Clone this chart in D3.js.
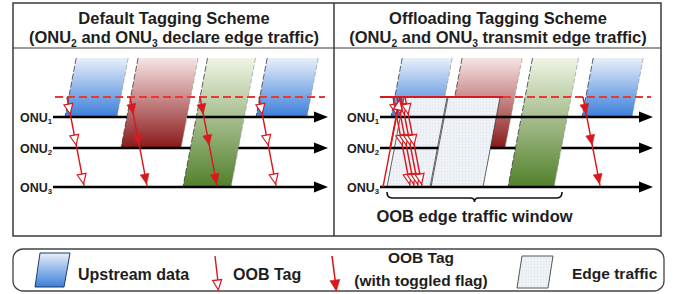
<!DOCTYPE html>
<html>
<head>
<meta charset="utf-8">
<script src="https://cdn.jsdelivr.net/npm/d3@7"></script>
<style>
  body { margin: 0; background: #fff; }
  svg { display: block; font-family: "Liberation Sans", Arial, sans-serif; }
</style>
</head>
<body>
<svg id="chart" width="673" height="294"></svg>
<script>
//-------------------------------------------------
// Data (times in slot units, distances in span units from the OLT)
//-------------------------------------------------
var panelTitles = [
  ["Default Tagging Scheme", "(ONU_2 and ONU_3 declare edge traffic)"],
  ["Offloading Tagging Scheme", "(ONU_2 and ONU_3 transmit edge traffic)"]
];
var onuLabels = ["ONU_1", "ONU_2", "ONU_3"];
var onuDist = [59, 90, 129];
var splitterDist = 39;
var oltDist = 0;
var propDelay = 0.19;          // slots per distance unit

// upstream bursts / edge bursts: onu index, start slot, length, lines they hide
var defaultBursts = [
  {kind: "up", onu: 0, t: 12,  w: 52, hides: []},
  {kind: "up", onu: 1, t: 68,  w: 60, hides: [0]},
  {kind: "up", onu: 2, t: 130, w: 48, hides: [1]},
  {kind: "up", onu: 0, t: 203, w: 51, hides: []}
];
var offloadBursts = [
  {kind: "up",   onu: 0, t: 11,  w: 50, hides: []},
  {kind: "up",   onu: 1, t: 65,  w: 60, hides: []},
  {kind: "edge", onu: 2, t: 7,   w: 43, hides: []},
  {kind: "edge", onu: 2, t: 51,  w: 52, hides: [1]},
  {kind: "up",   onu: 2, t: 128, w: 46, hides: [1]},
  {kind: "up",   onu: 0, t: 202, w: 50, hides: []}
];

// OOB tags sent down from the splitter
var defaultTags = [
  {t: 14,  type: "open"},
  {t: 77,  type: "filled"},
  {t: 147, type: "filled"},
  {t: 206, type: "open"}
];
var offloadTags = [
  {t: 13,  type: "open"},
  {t: 17,  type: "open"},
  {t: 21,  type: "open"},
  {t: 25,  type: "open"},
  {t: 203, type: "filled"}
];
// tags going up from ONUs to the splitter
var offloadUpTags = [
  {onu: 2, t: 3},
  {onu: 1, t: 10}
];
var edgeWindow = [7, 182];
var windowLabel = "OOB edge traffic window";

var legendLabels = ["Upstream data", "OOB Tag", "OOB Tag", "(with toggled flag)", "Edge traffic"];

//-------------------------------------------------
var svg = d3.select("#chart");
var red = "#d7191f";
var onuColors = [
  ["#e9eff9", "#3a7fda"],
  ["#f8e4e4", "#8a1919"],
  ["#eff4e4", "#52802a"]
];

var defs = svg.append("defs");
onuColors.forEach(function (c, i) {
  var g = defs.append("linearGradient").attr("id", "grad" + i)
    .attr("x1", 0).attr("y1", 0).attr("x2", 0).attr("y2", 1);
  g.append("stop").attr("offset", "0%").attr("stop-color", c[0]);
  g.append("stop").attr("offset", "100%").attr("stop-color", c[1]);
});
var pat = defs.append("pattern").attr("id", "edgefill")
  .attr("width", 3).attr("height", 3).attr("patternUnits", "userSpaceOnUse");
pat.append("rect").attr("width", 3).attr("height", 3).attr("fill", "#eef2f7");
pat.append("rect").attr("width", 1).attr("height", 1).attr("fill", "#dde3ec");

// y scale shared by both panels
var y = d3.scaleLinear().domain([oltDist, onuDist[2]]).range([58, 187]);

// text with _n subscripts
function richText(sel, str, size) {
  var parts = str.split(/_(\d)/);
  parts.forEach(function (p, i) {
    if (p === "") return;
    if (i % 2 === 1) {
      sel.append("tspan").attr("font-size", size * 0.62).attr("dy", size * 0.22).text(p);
    } else {
      sel.append("tspan").attr("dy", i > 0 ? -size * 0.22 : 0).text(p);
    }
  });
}

// frame
svg.append("rect").attr("x", 13).attr("y", 3).attr("width", 648).attr("height", 233)
  .attr("fill", "none").attr("stroke", "#3a3a3a").attr("stroke-width", 1.5);
svg.append("line").attr("x1", 334).attr("x2", 334).attr("y1", 3).attr("y2", 236)
  .attr("stroke", "#3a3a3a").attr("stroke-width", 1.5);
svg.append("line").attr("x1", 13).attr("x2", 661).attr("y1", 48).attr("y2", 48)
  .attr("stroke", "#3a3a3a").attr("stroke-width", 1.2);

var panels = [
  {x0: 53,  lineStart: 0, lineEnd: 275, dashFrom: 2, dashTo: 272, solidTo: null,
   bursts: defaultBursts, tags: defaultTags, upTags: [], title: panelTitles[0], cx: 174},
  {x0: 380, lineStart: 0, lineEnd: 273, dashFrom: 0, dashTo: 271, solidTo: 123,
   bursts: offloadBursts, tags: offloadTags, upTags: offloadUpTags, title: panelTitles[1], cx: 498}
];

function head(g, tipX, tipY, angle, type, len, half) {
  // angle: direction of travel in radians
  var bx = tipX - len * Math.cos(angle), by = tipY - len * Math.sin(angle);
  var px = -Math.sin(angle) * half, py = Math.cos(angle) * half;
  g.append("path")
    .attr("d", "M" + tipX + "," + tipY + "L" + (bx + px) + "," + (by + py) + "L" + (bx - px) + "," + (by - py) + "Z")
    .attr("fill", type === "open" ? "#fff" : red)
    .attr("stroke", red).attr("stroke-width", type === "open" ? 1.2 : 0.6)
    .attr("stroke-linejoin", "miter");
}

panels.forEach(function (p) {
  var x = d3.scaleLinear().domain([0, 275]).range([p.x0, p.x0 + 275]);
  var g = svg.append("g");

  // titles
  p.title.forEach(function (s, i) {
    var t = g.append("text").attr("x", p.cx).attr("y", i === 0 ? 24 : 43)
      .attr("text-anchor", "middle").attr("font-size", 16.5).attr("font-weight", "bold")
      .attr("fill", "#1e1e1e");
    richText(t, s, 16.5);
  });

  // bursts
  p.bursts.forEach(function (b) {
    var dBot = onuDist[b.onu];
    var dTop = b.kind === "up" ? oltDist : splitterDist;
    var blx = b.t, tlx = b.t + propDelay * (dBot - dTop);
    var pts = [[x(tlx), y(dTop)], [x(tlx + b.w), y(dTop)], [x(blx + b.w), y(dBot)], [x(blx), y(dBot)]];
    g.append("path").attr("d", "M" + pts.join("L") + "Z")
      .attr("fill", b.kind === "up" ? "url(#grad" + b.onu + ")" : "url(#edgefill)")
      .attr("stroke", "none");
    if (b.kind === "up") {
      g.append("line").attr("x1", pts[0][0]).attr("y1", pts[0][1]).attr("x2", pts[3][0]).attr("y2", pts[3][1])
        .attr("stroke", "#3c3c3c").attr("stroke-width", 0.8).attr("stroke-dasharray", "6,2");
      g.append("line").attr("x1", pts[1][0]).attr("y1", pts[1][1]).attr("x2", pts[2][0]).attr("y2", pts[2][1])
        .attr("stroke", "#9a9a9a").attr("stroke-width", 0.7).attr("stroke-dasharray", "5,2");
    } else {
      g.append("path").attr("d", "M" + pts[3] + "L" + pts[0] + "L" + pts[1] + "L" + pts[2])
        .attr("fill", "none").attr("stroke", "#3a3a3a").attr("stroke-width", 0.8);
    }
  });

  // ONU timelines, cut where a burst hides them
  onuDist.forEach(function (d, i) {
    var gaps = [];
    p.bursts.forEach(function (b) {
      if (b.hides.indexOf(i) < 0) return;
      var l = b.t + propDelay * (onuDist[b.onu] - d);
      gaps.push([l, l + b.w]);
    });
    gaps.sort(function (a, b) { return a[0] - b[0]; });
    var segs = [], cur = p.lineStart;
    gaps.forEach(function (gp) { segs.push([cur, gp[0]]); cur = gp[1]; });
    segs.push([cur, p.lineEnd - 10]);
    segs.forEach(function (s) {
      g.append("line").attr("x1", x(s[0])).attr("x2", x(s[1])).attr("y1", y(d)).attr("y2", y(d))
        .attr("stroke", "#000").attr("stroke-width", 2.6);
    });
    var ex = x(p.lineEnd), ey = y(d);
    g.append("path").attr("d", "M" + ex + "," + ey + "L" + (ex - 14) + "," + (ey - 5.5) + "L" + (ex - 14) + "," + (ey + 5.5) + "Z")
      .attr("fill", "#000");
    var lab = g.append("text").attr("x", x(p.lineStart) - 1).attr("y", ey + 4.5)
      .attr("text-anchor", "end").attr("font-size", 12.5).attr("font-weight", "bold").attr("fill", "#1e1e1e");
    richText(lab, onuLabels[i], 12.5);
  });

  // splitter (dashed red)
  var sy = y(splitterDist);
  if (p.solidTo !== null) {
    g.append("line").attr("x1", x(p.dashFrom)).attr("x2", x(p.solidTo)).attr("y1", sy).attr("y2", sy)
      .attr("stroke", red).attr("stroke-width", 1.8);
  }
  g.append("line").attr("x1", x(p.solidTo !== null ? p.solidTo : p.dashFrom)).attr("x2", x(p.dashTo))
    .attr("y1", sy).attr("y2", sy)
    .attr("stroke", "#e53935").attr("stroke-width", 1.8).attr("stroke-dasharray", "8,4");

  // downstream tags
  p.tags.forEach(function (tg) {
    var x1 = x(tg.t), y1 = y(splitterDist);
    var x2 = x(tg.t + propDelay * (onuDist[2] - splitterDist)), y2 = y(onuDist[2]) - 1;
    g.append("line").attr("x1", x1).attr("y1", y1).attr("x2", x2).attr("y2", y2)
      .attr("stroke", red).attr("stroke-width", 1.4);
    var ang = Math.atan2(y2 - y1, x2 - x1);
    onuDist.forEach(function (d) {
      var tipY = y(d) - 3;
      var tipX = x(tg.t + propDelay * (d - 3 - splitterDist));
      head(g, tipX, tipY, ang, tg.type, 10, 4.5);
    });
  });

  // upward tags
  p.upTags.forEach(function (tg) {
    var d0 = onuDist[tg.onu];
    var x1 = x(tg.t), y1 = y(d0);
    var x2 = x(tg.t + propDelay * (d0 - splitterDist)), y2 = y(splitterDist) + 1;
    g.append("line").attr("x1", x1).attr("y1", y1).attr("x2", x2).attr("y2", y2)
      .attr("stroke", red).attr("stroke-width", 1.4);
    head(g, x2, y2 + 2, Math.atan2(y2 - y1, x2 - x1), "open", 10, 4.5);
  });
});

// edge traffic window brace (offloading panel)
(function () {
  var x = d3.scaleLinear().domain([0, 275]).range([380, 655]);
  var a = x(edgeWindow[0]), b = x(edgeWindow[1]), m = (a + b) / 2;
  var top = 192, mid = 198;
  svg.append("path")
    .attr("d", "M" + a + "," + top + "Q" + a + "," + mid + " " + (a + 5) + "," + mid +
      "L" + (m - 4) + "," + mid + "Q" + m + "," + mid + " " + m + "," + (mid + 4) +
      "Q" + m + "," + mid + " " + (m + 4) + "," + mid +
      "L" + (b - 5) + "," + mid + "Q" + b + "," + mid + " " + b + "," + top)
    .attr("fill", "none").attr("stroke", "#111").attr("stroke-width", 1.6);
  svg.append("text").attr("x", m).attr("y", 222).attr("text-anchor", "middle")
    .attr("font-size", 16.5).attr("font-weight", "bold").attr("fill", "#1e1e1e").text(windowLabel);
})();

//-------------------------------------------------
// Legend
//-------------------------------------------------
var lg = svg.append("g");
lg.append("rect").attr("x", 13).attr("y", 249).attr("width", 651).attr("height", 42)
  .attr("rx", 10).attr("fill", "none").attr("stroke", "#444").attr("stroke-width", 1.3);

lg.append("path").attr("d", "M40,253L70,253L64,287L35,287Z")
  .attr("fill", "url(#grad0)").attr("stroke", "#1e3a66").attr("stroke-width", 1);
lg.append("text").attr("x", 78).attr("y", 280).attr("font-size", 16).attr("font-weight", "bold")
  .attr("fill", "#1e1e1e").text(legendLabels[0]);

lg.append("line").attr("x1", 215).attr("y1", 256).attr("x2", 218).attr("y2", 282)
  .attr("stroke", red).attr("stroke-width", 1.4);
head(lg, 218.3, 290, Math.atan2(26, 3), "open", 10, 4.5);
lg.append("text").attr("x", 233).attr("y", 280).attr("font-size", 16).attr("font-weight", "bold")
  .attr("fill", "#1e1e1e").text(legendLabels[1]);

lg.append("line").attr("x1", 332).attr("y1", 256).attr("x2", 335.5).attr("y2", 283)
  .attr("stroke", red).attr("stroke-width", 1.6);
head(lg, 336.3, 291, Math.atan2(27, 3.5), "filled", 11, 5);
lg.append("text").attr("x", 421).attr("y", 263).attr("text-anchor", "middle").attr("font-size", 15.5)
  .attr("font-weight", "bold").attr("fill", "#1e1e1e").text(legendLabels[2]);
lg.append("text").attr("x", 421).attr("y", 286).attr("text-anchor", "middle").attr("font-size", 15.5)
  .attr("font-weight", "bold").attr("fill", "#1e1e1e").text(legendLabels[3]);

lg.append("path").attr("d", "M522,256L553,256L548,288L517,288Z")
  .attr("fill", "url(#edgefill)").attr("stroke", "#555").attr("stroke-width", 1);
lg.append("text").attr("x", 572).attr("y", 279).attr("font-size", 15.5).attr("font-weight", "bold")
  .attr("fill", "#1e1e1e").text(legendLabels[4]);
</script>
</body>
</html>
